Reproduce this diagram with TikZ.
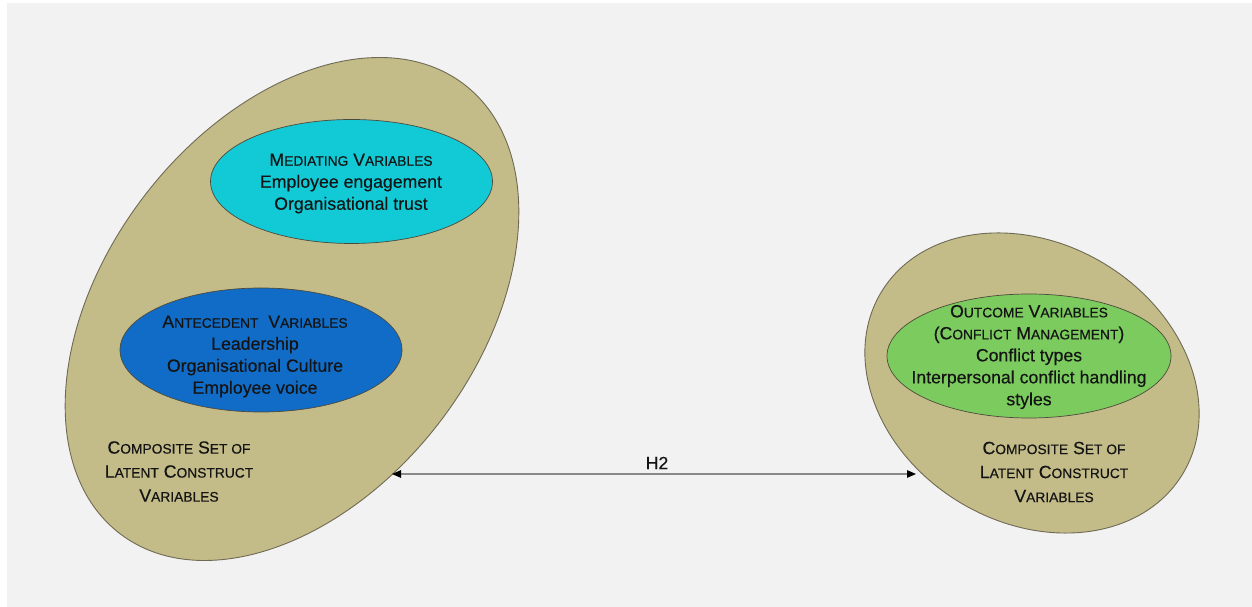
\documentclass[tikz,border=0pt]{standalone}
\usepackage{fontspec}
\setmainfont{Liberation Sans}[FakeBold=0.35]
\usetikzlibrary{shapes.geometric,arrows.meta}
\definecolor{panel}{HTML}{F2F2F2}
\definecolor{khaki}{HTML}{C4BC88}
\definecolor{medcyan}{HTML}{12C9D6}
\definecolor{antblue}{HTML}{106CC6}
\definecolor{outgreen}{HTML}{7BCB5F}
\definecolor{rim}{HTML}{6E6A55}
\definecolor{ink}{HTML}{141414}
\definecolor{linkgray}{HTML}{8A8A8A}
% reduced capitals for the small-caps headings
\newcommand\lowcaps[1]{{\fontsize{13.8pt}{13.8pt}\selectfont #1}}
\begin{document}
\begin{tikzpicture}[x=1pt,y=1pt,
  setbox/.style={ellipse, draw=rim, line width=0.9pt, fill=khaki, inner sep=0pt, outer sep=0pt},
  groupbox/.style={ellipse, draw=rim!70!black, line width=0.7pt, inner sep=0pt,
                   minimum width=282pt, minimum height=124pt},
  vartext/.style={text=ink, align=center, inner sep=0pt, font=\fontsize{17.7pt}{22pt}\selectfont},
  settext/.style={text=ink, align=center, inner sep=0pt, font=\fontsize{17.7pt}{24pt}\selectfont},
  linkline/.style={linkgray, line width=1.2pt,
                   >={Triangle[length=9pt,width=7.5pt,color=black]}, <->}
]
% canvas
\fill[white] (0,0) rectangle (1252,607);
\fill[panel] (7,0) rectangle (1252,604);
\useasboundingbox (0,0) rectangle (1252,607);

% composite sets
\node[setbox, minimum width=566pt, minimum height=372pt, rotate=52.5] (leftset) at (292,298) {};
\node[setbox, minimum width=352pt, minimum height=279pt, rotate=-31] (rightset) at (1032,224) {};

% variable groups
\node[groupbox, fill=medcyan] (mediating) at (351.5,425.5) {};
\node[groupbox, fill=antblue] (antecedent) at (261,257) {};
\node[groupbox, fill=outgreen, minimum width=284pt] (outcome) at (1029,251) {};

\node[vartext] (medtext) at (351,423.5)
  {M\lowcaps{EDIATING} V\lowcaps{ARIABLES}\\Employee engagement\\Organisational trust};
\node[vartext] (anttext) at (255,250.5)
  {A\lowcaps{NTECEDENT}\ \ V\lowcaps{ARIABLES}\\Leadership\\Organisational Culture\\Employee voice};
\node[vartext] (outtext) at (1029,250)
  {O\lowcaps{UTCOME} V\lowcaps{ARIABLES}\\(C\lowcaps{ONFLICT} M\lowcaps{ANAGEMENT})\\Conflict types\\Interpersonal conflict handling\\styles};

\node[settext] (lefttext) at (179,135.5)
  {C\lowcaps{OMPOSITE} S\lowcaps{ET OF}\\L\lowcaps{ATENT} C\lowcaps{ONSTRUCT}\\V\lowcaps{ARIABLES}};
\node[settext] (righttext) at (1054,135)
  {C\lowcaps{OMPOSITE} S\lowcaps{ET OF}\\L\lowcaps{ATENT} C\lowcaps{ONSTRUCT}\\V\lowcaps{ARIABLES}};

% hypothesis link between the two sets
\coordinate (h2left) at (392,133);
\coordinate (h2right) at (916,133);
\draw[linkline] (h2left) -- (h2right);
\node[vartext] (h2) at (657,144) {H2};
\end{tikzpicture}
\end{document}
